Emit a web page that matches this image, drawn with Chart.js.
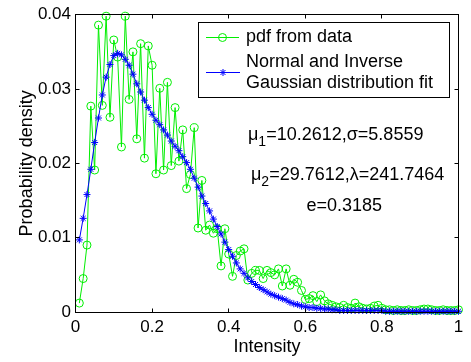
<!DOCTYPE html>
<html><head><meta charset="utf-8">
<script src="https://cdn.jsdelivr.net/npm/chart.js@4.4.1/dist/chart.umd.min.js"></script>
<style>html,body{margin:0;padding:0;background:#fff}</style>
</head><body>
<canvas id="c" width="471" height="362" style="display:block;width:471px;height:362px"></canvas>
<script>
const intensity = [
0.01,0.02,0.03,0.04,0.05,0.06,0.07,0.08,0.09,0.10,
0.11,0.12,0.13,0.14,0.15,0.16,0.17,0.18,0.19,0.20,
0.21,0.22,0.23,0.24,0.25,0.26,0.27,0.28,0.29,0.30,
0.31,0.32,0.33,0.34,0.35,0.36,0.37,0.38,0.39,0.40,
0.41,0.42,0.43,0.44,0.45,0.46,0.47,0.48,0.49,0.50,
0.51,0.52,0.53,0.54,0.55,0.56,0.57,0.58,0.59,0.60,
0.61,0.62,0.63,0.64,0.65,0.66,0.67,0.68,0.69,0.70,
0.71,0.72,0.73,0.74,0.75,0.76,0.77,0.78,0.79,0.80,
0.81,0.82,0.83,0.84,0.85,0.86,0.87,0.88,0.89,0.90,
0.91,0.92,0.93,0.94,0.95,0.96,0.97,0.98,0.99,1.00];

const pdfFromData = [
0.0012,0.0045,0.0090,0.0277,0.0191,0.0386,0.0278,0.0398,0.0262,0.0366,
0.0343,0.0222,0.0398,0.0286,0.0350,0.0233,0.0361,0.0207,0.0358,0.0332,
0.0186,0.0301,0.0191,0.0309,0.0197,0.0275,0.0203,0.0245,0.0166,0.0185,
0.0248,0.0113,0.0177,0.0110,0.0117,0.0106,0.0112,0.0062,0.0112,0.0078,
0.0048,0.0076,0.0082,0.0085,0.0043,0.0052,0.0056,0.0056,0.0045,0.0056,
0.0053,0.0050,0.0058,0.0035,0.0058,0.0036,0.0044,0.0040,0.0029,0.0017,
0.0018,0.0022,0.0014,0.0023,0.0015,0.0011,0.0009,0.0007,0.0006,0.0009,
0.0006,0.0005,0.0012,0.0007,0.0005,0.0004,0.0005,0.0008,0.0009,0.0005,
0.0003,0.0003,0.0002,0.0003,0.0002,0.0002,0.0003,0.0002,0.0002,0.0003,
0.0004,0.0004,0.0003,0.0002,0.0002,0.0003,0.0002,0.0002,0.0002,0.0003];

const fitCurve = [
0.0097,0.0126,0.0158,0.0192,0.0228,0.0261,0.0292,0.0316,0.0333,0.0345,
0.0348,0.0346,0.0340,0.0332,0.0320,0.0307,0.0296,0.0285,0.0275,0.0266,
0.0258,0.0252,0.0245,0.0238,0.0230,0.0223,0.0217,0.0209,0.0201,0.0192,
0.0180,0.0168,0.0156,0.0146,0.0136,0.0125,0.0115,0.0105,0.0094,0.0084,
0.0075,0.0066,0.0058,0.0052,0.0046,0.0041,0.0037,0.0033,0.0030,0.0027,
0.0024,0.0022,0.0020,0.0018,0.0016,0.0013,0.0011,0.0010,0.0008,0.0007,
0.0006,0.0006,0.0005,0.0005,0.0004,0.0004,0.0003,0.0003,0.0002,0.0002,
0.0002,0.0002,0.0002,0.0002,0.0002,0.0002,0.0002,0.0002,0.0002,0.0002,
0.0001,0.0001,0.0001,0.0001,0.0001,0.0001,0.0001,0.0001,0.0001,0.0001,
0.0001,0.0001,0.0001,0.0001,0.0001,0.0001,0.0001,0.0001,0.0001,0.0001];

const xTicks = [0, 0.2, 0.4, 0.6, 0.8, 1];
const yTicks = [0, 0.01, 0.02, 0.03, 0.04];
const legendLabels = ['pdf from data', 'Normal and Inverse', 'Gaussian distribution fit'];
const mu1 = '10.2612', sigma = '5.8559', mu2 = '29.7612', lambda = '241.7464', eVal = '0.3185';

const FONT = "'Liberation Sans', Arial, Helvetica, sans-serif";
const GREEN = '#00ee00', BLUE = '#0000ff';
Chart.defaults.font.family = FONT;
Chart.defaults.color = '#000';

function fmt(v) { return String(+Number(v).toFixed(3)); }

function drawStar(ctx, cx, cy, r) {
  ctx.beginPath();
  ctx.moveTo(cx - r, cy); ctx.lineTo(cx + r, cy);
  ctx.moveTo(cx, cy - r); ctx.lineTo(cx, cy + r);
  const d = r * Math.SQRT1_2;
  ctx.moveTo(cx - d, cy - d); ctx.lineTo(cx + d, cy + d);
  ctx.moveTo(cx - d, cy + d); ctx.lineTo(cx + d, cy - d);
  ctx.stroke();
}

const framePlugin = {
  id: 'frame',
  afterDatasetsDraw(chart) {
    const {ctx, chartArea: a, scales: {x, y}} = chart;
    ctx.save();
    ctx.strokeStyle = '#000';
    ctx.lineWidth = 1;
    const L = Math.floor(a.left) + 0.5, R = Math.floor(a.right) + 0.5;
    const T = Math.floor(a.top) + 0.5, B = Math.floor(a.bottom) + 0.5;
    ctx.strokeRect(L, T, R - L, B - T);
    const tl = 4;
    ctx.beginPath();
    xTicks.forEach(v => {
      const px = Math.floor(x.getPixelForValue(v)) + 0.5;
      ctx.moveTo(px, B); ctx.lineTo(px, B - tl);
      ctx.moveTo(px, T); ctx.lineTo(px, T + tl);
    });
    yTicks.forEach(v => {
      const py = Math.floor(y.getPixelForValue(v)) + 0.5;
      ctx.moveTo(L, py); ctx.lineTo(L + tl, py);
      ctx.moveTo(R, py); ctx.lineTo(R - tl, py);
    });
    ctx.stroke();

    // legend
    ctx.fillStyle = '#fff';
    ctx.fillRect(198.5, 22.5, 251, 75);
    ctx.strokeRect(198.5, 22.5, 251, 75);
    ctx.lineWidth = 1;
    ctx.strokeStyle = GREEN;
    ctx.beginPath(); ctx.moveTo(206, 37.5); ctx.lineTo(239, 37.5); ctx.stroke();
    ctx.beginPath(); ctx.arc(222.5, 37.5, 4, 0, Math.PI * 2); ctx.stroke();
    ctx.strokeStyle = BLUE;
    ctx.beginPath(); ctx.moveTo(206, 72.5); ctx.lineTo(240, 72.5); ctx.stroke();
    drawStar(ctx, 223, 72.5, 3.5);
    ctx.fillStyle = '#000';
    ctx.font = '18px ' + FONT;
    ctx.textAlign = 'left';
    ctx.textBaseline = 'middle';
    ctx.fillText(legendLabels[0], 246, 37);
    ctx.fillText(legendLabels[1], 246, 62.5);
    ctx.fillText(legendLabels[2], 246, 83.5);

    // annotations
    const big = '18px ' + FONT, small = '14px ' + FONT;
    let xx = 248;
    ctx.font = big; ctx.fillText('μ', xx, 135); xx += ctx.measureText('μ').width;
    ctx.font = small; ctx.fillText('1', xx, 142.5); xx += ctx.measureText('1').width;
    ctx.font = big; ctx.fillText('=' + mu1 + ',σ=' + sigma, xx, 135);
    xx = 251;
    ctx.font = big; ctx.fillText('μ', xx, 175); xx += ctx.measureText('μ').width;
    ctx.font = small; ctx.fillText('2', xx, 182.5); xx += ctx.measureText('2').width;
    ctx.font = big; ctx.fillText('=' + mu2 + ',λ=' + lambda, xx, 175);
    ctx.fillText('e=' + eVal, 306.5, 206.5);
    ctx.restore();
  }
};

new Chart(document.getElementById('c'), {
  type: 'line',
  data: {
    datasets: [
      {
        label: legendLabels[0],
        data: intensity.map((v, i) => ({x: v, y: pdfFromData[i]})),
        borderColor: GREEN, backgroundColor: 'rgba(0,0,0,0)', borderWidth: 1,
        pointStyle: 'circle', pointRadius: 4, pointBorderWidth: 1,
        pointBorderColor: GREEN, pointBackgroundColor: 'rgba(0,0,0,0)',
        tension: 0, fill: false, clip: false, order: 1
      },
      {
        label: legendLabels[1] + ' ' + legendLabels[2],
        data: intensity.map((v, i) => ({x: v, y: fitCurve[i]})),
        borderColor: BLUE, backgroundColor: BLUE, borderWidth: 1,
        pointStyle: 'star', pointRadius: 3.5, pointBorderWidth: 1,
        pointBorderColor: BLUE, pointBackgroundColor: BLUE,
        tension: 0, fill: false, clip: false, order: 0
      }
    ]
  },
  options: {
    responsive: false, animation: false, devicePixelRatio: 1,
    layout: {padding: {left: 0, right: 12.5, top: 12, bottom: 0}},
    plugins: {legend: {display: false}, tooltip: {enabled: false}},
    scales: {
      x: {
        type: 'linear', min: 0, max: 1,
        ticks: {stepSize: 0.2, font: {size: 17}, color: '#000', padding: 5, maxRotation: 0, autoSkip: false, callback: fmt},
        grid: {display: false, drawTicks: false}, border: {display: false},
        title: {display: true, text: 'Intensity', font: {size: 18}, color: '#000', padding: {top: 0, bottom: 4.4}},
        afterFit(s) { s.height = 50; }
      },
      y: {
        type: 'linear', min: 0, max: 0.04,
        ticks: {stepSize: 0.01, font: {size: 17}, color: '#000', padding: 4.5, callback: fmt},
        grid: {display: false, drawTicks: false}, border: {display: false},
        title: {display: true, text: 'Probability density', font: {size: 18}, color: '#000', padding: {top: 16, bottom: 0}},
        afterFit(s) { s.width = 75.5; }
      }
    }
  },
  plugins: [framePlugin]
});
</script>
</body></html>
